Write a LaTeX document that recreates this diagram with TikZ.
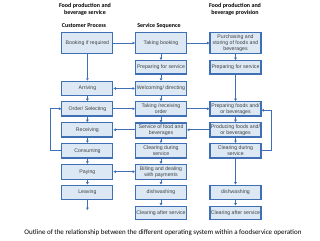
\documentclass[tikz,border=0pt]{standalone}
\usepackage{fontspec}
\setmainfont{Liberation Sans}
\newfontfamily\calfont{Carlito}
\usetikzlibrary{arrows.meta}
\definecolor{boxfill}{HTML}{DCE9F5}
\definecolor{boxline}{HTML}{3F6FB5}
\definecolor{boxtext}{HTML}{404040}
\begin{document}
\begin{tikzpicture}[x=1pt,y=-1pt,
  procbox/.style={draw=boxline,line width=1.1pt,fill=boxfill,minimum width=51pt,inner sep=0pt,
    align=center,text=boxtext,font=\fontsize{5.2}{6}\selectfont},
  conn/.style={draw=boxline,line width=0.7pt,-{Triangle[length=2.4pt,width=2.6pt]}},
  dconn/.style={draw=boxline,line width=0.7pt,{Triangle[length=2.4pt,width=2.6pt]}-{Triangle[length=2.4pt,width=2.6pt]}},
  head/.style={font=\calfont\bfseries\fontsize{6}{7.6}\selectfont,align=center,text=black}]
\useasboundingbox (0,0) rectangle (320,240);
\fill[white] (0,0) rectangle (320,240);
% headings
\node[head] (h1) at (85,9.5) {Food production and\\beverage service};
\node[head] (h2) at (235,9.5) {Food production and\\beverage provision};
\node[head] (h3) at (84,25.5) {Customer Process};
\node[head] (h4) at (159,25.5) {Service Sequence};
% left column
\node[procbox,minimum height=20.5pt] (l1) at (87.4,43) {Booking if required};
\node[procbox,minimum height=14.5pt] (l2) at (87.4,88.5) {Arriving};
\node[procbox,minimum height=14.3pt] (l3) at (87.4,108.8) {Order/ Selecting};
\node[procbox,minimum height=14.3pt] (l4) at (87.4,129.8) {Receiving};
\node[procbox,minimum height=14.5pt] (l5) at (87.4,150.7) {Consuming};
\node[procbox,minimum height=14.7pt] (l6) at (87.4,171.7) {Paying};
\node[procbox,minimum height=14.3pt] (l7) at (87.4,192.2) {Leaving};
\coordinate (lend) at (87.4,210);
% middle column
\node[procbox,minimum height=20.5pt] (m1) at (161,43) {Taking booking};
\node[procbox,minimum height=13.5pt] (m2) at (161,67.3) {Preparing for service};
\node[procbox,minimum height=14.5pt] (m3) at (161,88.5) {Welcoming/ directing};
\node[procbox,minimum height=14.3pt] (m4) at (161,108.8) {Taking /receiving\\order};
\node[procbox,minimum height=15pt] (m5) at (161,130.5) {Service of food and\\beverages};
\node[procbox,minimum height=14.5pt] (m6) at (161,150.7) {Clearing during\\service};
\node[procbox,minimum height=14.7pt] (m7) at (161,171.7) {Billing and dealing\\with payments};
\node[procbox,minimum height=14.3pt] (m8) at (161,192.2) {dishwashing};
\node[procbox,minimum height=13.3pt] (m9) at (161,212.7) {Clearing after service};
% right column
\node[procbox,minimum height=20.5pt] (r1) at (235.5,43) {Purchasing and\\storing of foods and\\beverages};
\node[procbox,minimum height=13.5pt] (r2) at (235.5,67.3) {Preparing for service};
\node[procbox,minimum height=14.3pt] (r3) at (235.5,108.8) {Preparing foods and/\\or beverages};
\node[procbox,minimum height=14.3pt] (r4) at (235.5,129.8) {Producing foods and/\\or beverages};
\node[procbox,minimum height=14.5pt] (r5) at (235.5,150.7) {Clearing during\\service};
\node[procbox,minimum height=14.3pt] (r6) at (235.5,192.2) {dishwashing};
\node[procbox,minimum height=13.3pt] (r7) at (235.5,212.7) {Clearing after service};
% caption
\node[font=\calfont\fontsize{7}{8.4}\selectfont,text=black] (cap) at (163,232.3)
  {Outline of the relationship between the different operating system within a foodservice operation};
% vertical connectors
\foreach \a/\b in {l1/l2,l2/l3,l3/l4,l4/l5,l5/l6,l6/l7,
  m1/m2,m2/m3,m3/m4,m4/m5,m5/m6,m6/m7,m7/m8,m8/m9,
  r1/r2,r2/r3,r3/r4,r4/r5,r5/r6,r6/r7}
  \draw[conn] (\a) -- (\b);
\draw[conn] (l7) -- (lend);
% horizontal connectors
\draw[conn] (l1) -- (m1);
\draw[conn] (m1) -- (r1);
\draw[dconn] (l2) -- (m3);
\draw[conn] (l3) -- (m4);
\draw[conn] (m4) -- (r3);
\draw[conn] (r4) -- (r4 -| m5.east);
\draw[conn] (l4 -| m5.west) -- (l4);
\draw[dconn] (l6) -- (m7);
% loops
\draw[conn] (l5.west) -- ++(-11,0) |- (l3.west);
\draw[conn] (r5.east) -- ++(10,0) |- ([yshift=-1.5pt]r3.east);
\end{tikzpicture}
\end{document}
